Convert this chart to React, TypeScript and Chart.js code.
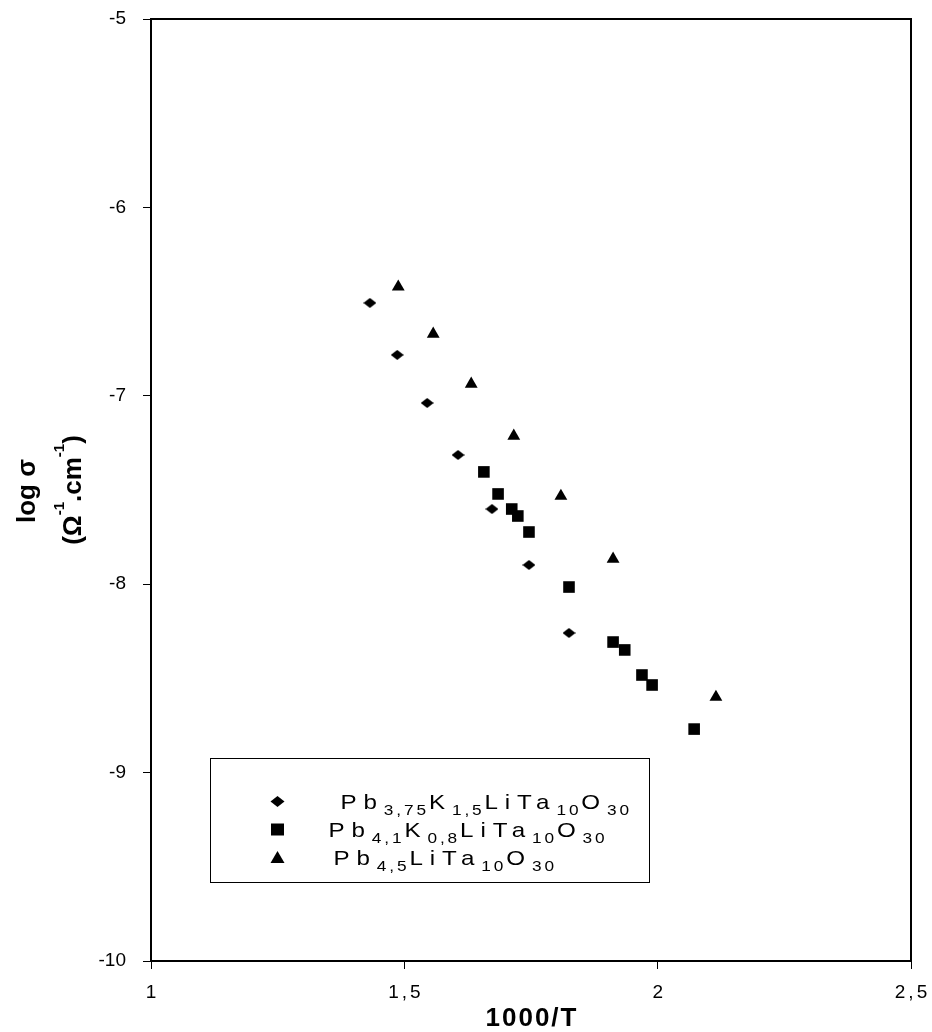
import React, { useEffect, useRef } from 'react';
import { Chart, registerables } from 'chart.js';

Chart.register(...registerables);

const FONT = '"Liberation Sans", Arial, Helvetica, sans-serif';

// Series 1: Pb3,75K1,5LiTa10O30 (diamonds)
const xDiamond = [1.432, 1.486, 1.545, 1.606, 1.673, 1.746, 1.825];
const yDiamond = [-6.507, -6.783, -7.038, -7.314, -7.601, -7.898, -8.259];
// Series 2: Pb4,1K0,8LiTa10O30 (squares)
const xSquare = [1.657, 1.685, 1.712, 1.724, 1.746, 1.825, 1.912, 1.935, 1.969, 1.989, 2.072];
const ySquare = [-7.404, -7.521, -7.601, -7.638, -7.723, -8.015, -8.307, -8.349, -8.482, -8.535, -8.769];
// Series 3: Pb4,5LiTa10O30 (triangles)
const xTriangle = [1.488, 1.557, 1.632, 1.716, 1.809, 1.912, 2.115];
const yTriangle = [-6.422, -6.672, -6.937, -7.213, -7.532, -7.866, -8.599];

const xTickValues = [1, 1.5, 2, 2.5];
const xTickLabels = ['1', '1,5', '2', '2,5'];
const yTickValues = [-10, -9, -8, -7, -6, -5];
const yTickLabels = ['-10', '-9', '-8', '-7', '-6', '-5'];

const seriesLabels = ['Pb3,75K1,5LiTa10O30', 'Pb4,1K0,8LiTa10O30', 'Pb4,5LiTa10O30'];
// alternating normal / subscript parts
const legendParts = [
  ['Pb', '3,75', 'K', '1,5', 'LiTa', '10', 'O', '30'],
  ['Pb', '4,1', 'K', '0,8', 'LiTa', '10', 'O', '30'],
  ['Pb', '4,5', 'LiTa', '10', 'O', '30'],
];
const legendMarkers = ['diamond', 'square', 'triangle'];

const xTitle = '1000/T';
const yTitleLine1 = 'log σ';
// alternating normal / superscript parts
const yTitleParts = ['(Ω', '-1', '.cm', '-1', ')'];

function makeDiamond(w: number, h: number) {
  const c = document.createElement('canvas');
  c.width = w;
  c.height = h;
  const g = c.getContext('2d')!;
  g.fillStyle = '#000';
  g.beginPath();
  g.moveTo(w / 2, 0);
  g.lineTo(w, h / 2);
  g.lineTo(w / 2, h);
  g.lineTo(0, h / 2);
  g.closePath();
  g.fill();
  return c;
}

type Seg = { t: string; size: number; dy: number; sp: number };

function partsToSegs(parts: string[], main: number, small: number, dySmall: number, spMain: number, spSmall: number): Seg[] {
  return parts.map((t, i) =>
    i % 2 === 0 ? { t, size: main, dy: 0, sp: spMain } : { t, size: small, dy: dySmall, sp: spSmall }
  );
}

function richWidth(ctx: any, segs: Seg[], weight: string) {
  let w = 0;
  for (const s of segs) {
    ctx.font = `${weight} ${s.size}px ${FONT}`;
    ctx.letterSpacing = s.sp + 'px';
    w += ctx.measureText(s.t).width;
  }
  return w;
}

function drawRich(ctx: any, segs: Seg[], x: number, y: number, weight: string) {
  let cx = x;
  for (const s of segs) {
    ctx.font = `${weight} ${s.size}px ${FONT}`;
    ctx.letterSpacing = s.sp + 'px';
    ctx.fillText(s.t, cx, y + s.dy);
    cx += ctx.measureText(s.t).width;
  }
  ctx.letterSpacing = '0px';
}

const X_LABEL_SPACING = 3;

const decorPlugin = {
  id: 'decor',
  beforeDraw(chart: any) {
    const sx = chart.scales.x;
    if (sx && !sx.__ls) {
      sx.__ls = true;
      const orig = sx.drawLabels.bind(sx);
      sx.drawLabels = (area: any) => {
        const c = sx.ctx;
        c.save();
        c.letterSpacing = X_LABEL_SPACING + 'px';
        c.translate(X_LABEL_SPACING / 2, 0);
        orig(area);
        c.restore();
      };
    }
  },
  afterDraw(chart: any) {
    const { ctx, chartArea: a } = chart;
    ctx.save();
    // full frame
    ctx.strokeStyle = '#000';
    ctx.lineWidth = 2;
    ctx.strokeRect(a.left, a.top, a.right - a.left, a.bottom - a.top);

    ctx.fillStyle = '#000';
    ctx.textAlign = 'left';
    ctx.textBaseline = 'alphabetic';

    // x title
    const xt: Seg[] = [{ t: xTitle, size: 26, dy: 0, sp: 2 }];
    const xtw = richWidth(ctx, xt, 'bold') - 2;
    drawRich(ctx, xt, (a.left + a.right) / 2 - xtw / 2, a.bottom + 65, 'bold');

    // y title (rotated)
    const cy = (a.top + a.bottom) / 2;
    const l1: Seg[] = [{ t: yTitleLine1, size: 26, dy: 0, sp: 0 }];
    const l1w = richWidth(ctx, l1, 'bold');
    ctx.save();
    ctx.translate(a.left - 116, cy + 1);
    ctx.rotate(-Math.PI / 2);
    drawRich(ctx, l1, -l1w / 2, 0, 'bold');
    ctx.restore();

    const l2 = partsToSegs(yTitleParts, 26, 15, -17, 0, 0);
    const l2w = richWidth(ctx, l2, 'bold');
    ctx.save();
    ctx.translate(a.left - 70, cy);
    ctx.rotate(-Math.PI / 2);
    drawRich(ctx, l2, -l2w / 2, 0, 'bold');
    ctx.restore();

    // legend box
    const bx = Math.round(a.left + 59) + 0.5;
    const by = Math.round(a.top + 739) + 0.5;
    const bw = 439;
    const bh = 124;
    ctx.fillStyle = '#fff';
    ctx.fillRect(bx, by, bw, bh);
    ctx.strokeStyle = '#000';
    ctx.lineWidth = 1;
    ctx.strokeRect(bx, by, bw, bh);

    const rowY = [43, 71, 99];
    const textX = [130, 118, 123];
    ctx.fillStyle = '#000';
    legendParts.forEach((parts, i) => {
      const yc = by + rowY[i];
      const mx = bx + 67;
      const kind = legendMarkers[i];
      ctx.beginPath();
      if (kind === 'diamond') {
        ctx.moveTo(mx, yc - 5.5);
        ctx.lineTo(mx + 7, yc);
        ctx.lineTo(mx, yc + 5.5);
        ctx.lineTo(mx - 7, yc);
        ctx.closePath();
      } else if (kind === 'square') {
        ctx.rect(mx - 6.5, yc - 6, 13, 12);
      } else {
        ctx.moveTo(mx, yc - 6.5);
        ctx.lineTo(mx + 7, yc + 5.5);
        ctx.lineTo(mx - 7, yc + 5.5);
        ctx.closePath();
      }
      ctx.fill();
      const segs = partsToSegs(parts, 21, 15, 6, 6, 2.5);
      ctx.save();
      ctx.translate(bx + textX[i], yc + 7.5);
      ctx.scale(1.15, 1);
      drawRich(ctx, segs, 0, 0, 'normal');
      ctx.restore();
    });
    ctx.restore();
  },
};

export default function App() {
  const ref = useRef<HTMLCanvasElement | null>(null);

  useEffect(() => {
    document.body.style.margin = '0';
    const canvas = ref.current;
    if (!canvas) return;
    const diamond = makeDiamond(13, 10);
    const chart = new Chart(canvas, {
      type: 'scatter',
      data: {
        datasets: [
          {
            label: seriesLabels[0],
            data: xDiamond.map((x, i) => ({ x, y: yDiamond[i] })),
            pointStyle: diamond as any,
            pointRadius: 6,
            backgroundColor: '#000',
            borderColor: '#000',
            pointBorderWidth: 0,
          },
          {
            label: seriesLabels[1],
            data: xSquare.map((x, i) => ({ x, y: ySquare[i] })),
            pointStyle: 'rect',
            pointRadius: 8.2,
            backgroundColor: '#000',
            borderColor: '#000',
            pointBorderWidth: 0,
          },
          {
            label: seriesLabels[2],
            data: xTriangle.map((x, i) => ({ x, y: yTriangle[i] })),
            pointStyle: 'triangle',
            pointRadius: 7.4,
            backgroundColor: '#000',
            borderColor: '#000',
            pointBorderWidth: 0,
          },
        ],
      },
      options: {
        responsive: false,
        animation: false,
        events: [],
        layout: { padding: { top: 19, right: 21, left: 0, bottom: 0 } },
        plugins: { legend: { display: false }, tooltip: { enabled: false } },
        scales: {
          x: {
            type: 'linear',
            min: 1,
            max: 2.5,
            afterBuildTicks: (s: any) => {
              s.ticks = xTickValues.map((v) => ({ value: v }));
            },
            ticks: {
              callback: (_v: any, i: number) => xTickLabels[i],
              font: { family: FONT, size: 19 },
              color: '#000',
              padding: 12,
              maxRotation: 0,
              autoSkip: false,
            },
            grid: { drawOnChartArea: false, drawTicks: true, tickLength: 8, color: '#000', lineWidth: 1 },
            border: { display: true, color: '#000', width: 2 },
            afterFit: (s: any) => {
              s.height = 71;
              s.paddingLeft = 0;
              s.paddingRight = 0;
            },
          },
          y: {
            type: 'linear',
            min: -10,
            max: -5,
            afterBuildTicks: (s: any) => {
              s.ticks = yTickValues.map((v) => ({ value: v }));
            },
            ticks: {
              callback: (_v: any, i: number) => yTickLabels[i],
              font: { family: FONT, size: 19 },
              color: '#000',
              padding: 17,
              autoSkip: false,
            },
            grid: { drawOnChartArea: false, drawTicks: true, tickLength: 8, color: '#000', lineWidth: 1 },
            border: { display: true, color: '#000', width: 2 },
            afterFit: (s: any) => {
              s.width = 151;
              s.paddingTop = 0;
              s.paddingBottom = 0;
            },
          },
        },
      },
      plugins: [decorPlugin],
    } as any);
    return () => chart.destroy();
  }, []);

  return (
    <div style={{ width: 932, height: 1032 }}>
      <canvas ref={ref} width={932} height={1032} style={{ display: 'block' }} />
    </div>
  );
}
